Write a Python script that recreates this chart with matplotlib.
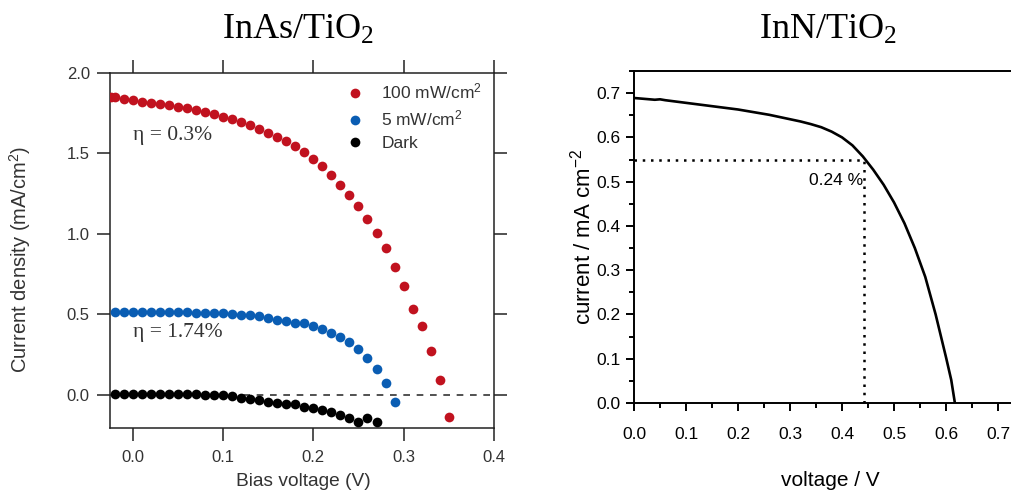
import matplotlib
matplotlib.use("Agg")
import matplotlib.pyplot as plt
from matplotlib.ticker import MultipleLocator

plt.rcParams["font.family"] = ["Liberation Sans", "DejaVu Sans"]
plt.rcParams["mathtext.default"] = "regular"

# InAs/TiO2 panel: J-V points (V in volts, J in mA/cm2)
v_100 = [-0.024, -0.02, -0.01, 0.0, 0.01, 0.02, 0.03, 0.04, 0.05, 0.06, 0.07, 0.08, 0.09,
         0.10, 0.11, 0.12, 0.13, 0.14, 0.15, 0.16, 0.17, 0.18, 0.19, 0.20, 0.21, 0.22,
         0.23, 0.24, 0.25, 0.26, 0.27, 0.28, 0.29, 0.30, 0.31, 0.32, 0.33, 0.34, 0.35]
j_100 = [1.853, 1.848, 1.840, 1.830, 1.822, 1.815, 1.808, 1.800, 1.791, 1.781, 1.768, 1.757,
         1.743, 1.729, 1.713, 1.697, 1.677, 1.655, 1.628, 1.602, 1.576, 1.546, 1.506, 1.466,
         1.425, 1.366, 1.305, 1.245, 1.175, 1.095, 1.005, 0.910, 0.797, 0.677, 0.534, 0.430,
         0.276, 0.090, -0.136]

v_5 = [-0.02, -0.01, 0.0, 0.01, 0.02, 0.03, 0.04, 0.05, 0.06, 0.07, 0.08, 0.09, 0.10,
       0.11, 0.12, 0.13, 0.14, 0.15, 0.16, 0.17, 0.18, 0.19, 0.20, 0.21, 0.22, 0.23,
       0.24, 0.25, 0.26, 0.27, 0.28, 0.29]
j_5 = [0.515, 0.515, 0.515, 0.515, 0.515, 0.514, 0.514, 0.513, 0.513, 0.512, 0.511, 0.510,
       0.507, 0.503, 0.498, 0.494, 0.488, 0.478, 0.468, 0.457, 0.449, 0.444, 0.428, 0.410,
       0.385, 0.358, 0.327, 0.286, 0.230, 0.162, 0.076, -0.044]

v_dark = [-0.02, -0.01, 0.0, 0.01, 0.02, 0.03, 0.04, 0.05, 0.06, 0.07, 0.08, 0.09, 0.10,
          0.11, 0.12, 0.13, 0.14, 0.15, 0.16, 0.17, 0.18, 0.19, 0.20, 0.21, 0.22, 0.23,
          0.24, 0.25, 0.26, 0.27]
j_dark = [0.003, 0.003, 0.003, 0.003, 0.004, 0.006, 0.008, 0.006, 0.004, 0.003, 0.002, 0.001,
          -0.002, -0.008, -0.016, -0.022, -0.033, -0.041, -0.047, -0.057, -0.058, -0.074,
          -0.078, -0.094, -0.103, -0.123, -0.140, -0.170, -0.144, -0.167]

# InN/TiO2 panel: current (mA cm-2) vs voltage (V)
v_inn = [0.0, 0.02, 0.04, 0.05, 0.06, 0.08, 0.10, 0.12, 0.14, 0.16, 0.18, 0.20, 0.22,
         0.24, 0.26, 0.28, 0.30, 0.32, 0.34, 0.36, 0.38, 0.40, 0.42, 0.44, 0.46, 0.48,
         0.50, 0.52, 0.54, 0.56, 0.58, 0.60, 0.61, 0.617]
j_inn = [0.689, 0.687, 0.685, 0.686, 0.684, 0.681, 0.678, 0.675, 0.672, 0.669, 0.666, 0.663,
         0.659, 0.655, 0.651, 0.646, 0.641, 0.636, 0.630, 0.623, 0.613, 0.600, 0.582, 0.557,
         0.527, 0.493, 0.453, 0.406, 0.350, 0.285, 0.200, 0.103, 0.052, 0.0]
v_mpp = 0.443
j_mpp = 0.55

fig = plt.figure(figsize=(10.12, 4.95), dpi=100)

# ---------- left panel ----------
ax = fig.add_axes([0.1087, 0.1354, 0.3794, 0.7172])
ax.axhline(0, ls=(0, (4, 4)), lw=1.2, color="#333333", zorder=1)
ax.plot(v_100, j_100, "o", ms=7, color="#c1121f", mec="none", label="100 mW/cm$^2$", zorder=3)
ax.plot(v_5, j_5, "o", ms=7, color="#0a5db3", mec="none", label="5 mW/cm$^2$", zorder=3)
ax.plot(v_dark, j_dark, "o", ms=7, color="black", mec="none", label="Dark", zorder=3)
ax.set_xlim(-0.025, 0.4)
ax.set_ylim(-0.205, 2.0)
ax.set_xticks([0.0, 0.1, 0.2, 0.3, 0.4])
ax.set_yticks([0.0, 0.5, 1.0, 1.5, 2.0])
ax.tick_params(direction="out", length=9.5, width=1.1, top=True, right=True,
               labelsize=12, labelcolor="#333333", color="#222222")
ax.tick_params(axis="x", pad=6.5)
ax.tick_params(axis="y", pad=5)
for s in ax.spines.values():
    s.set_linewidth(1.1)
    s.set_color("#222222")
ax.set_xlabel("Bias voltage (V)", fontsize=13.8, color="#333333", va="center")
ax.set_ylabel("Current density (mA/cm$^2$)", fontsize=14.5, color="#333333", va="center")
ax.xaxis.set_label_coords(0.503, -0.152)
ax.yaxis.set_label_coords(-0.234, 0.476)
ax.text(0.0, 1.61, "η = 0.3%", family="Liberation Serif", fontsize=15.5, color="#333333",
        ha="left", va="center")
ax.text(0.0, 0.39, "η = 1.74%", family="Liberation Serif", fontsize=15.5, color="#333333",
        ha="left", va="center")
ax.legend(loc="upper left", bbox_to_anchor=(0.616, 0.975), frameon=False, fontsize=12.5,
          handlelength=1.0, handletextpad=1.0, borderpad=0, borderaxespad=0,
          labelspacing=0.4, labelcolor="#333333")

# ---------- right panel ----------
ax2 = fig.add_axes([0.6265, 0.1859, 0.3854, 0.6707])
ax2.plot(v_inn, j_inn, color="black", lw=1.9)
ax2.plot([0, v_mpp], [j_mpp, j_mpp], color="black", lw=1.8, ls=(0, (1, 2.3)))
ax2.plot([v_mpp, v_mpp], [0, j_mpp], color="black", lw=1.8, ls=(0, (1, 2.3)))
ax2.text(0.44, 0.502, "0.24 %", fontsize=12.5, ha="right", va="center")
ax2.set_xlim(0, 0.75)
ax2.set_ylim(0, 0.75)
ax2.set_xticks([0.0, 0.1, 0.2, 0.3, 0.4, 0.5, 0.6, 0.7])
ax2.set_yticks([0.0, 0.1, 0.2, 0.3, 0.4, 0.5, 0.6, 0.7])
ax2.xaxis.set_minor_locator(MultipleLocator(0.05))
ax2.yaxis.set_minor_locator(MultipleLocator(0.05))
ax2.tick_params(which="major", direction="out", length=6, width=1.4, labelsize=12.5)
ax2.tick_params(which="minor", direction="out", length=3.3, width=1.4)
ax2.tick_params(axis="x", which="major", pad=11)
ax2.tick_params(axis="y", which="major", pad=4)
for s in ax2.spines.values():
    s.set_linewidth(1.4)
ax2.spines["right"].set_visible(False)
ax2.set_xlabel("voltage / V", fontsize=15, va="center")
ax2.set_ylabel("current / mA cm$^{-2}$", fontsize=16, va="center")
ax2.xaxis.set_label_coords(0.503, -0.232)
ax2.yaxis.set_label_coords(-0.131, 0.5)

# titles
fig.text(298 / 1012, 1 - 30 / 495, "InAs/TiO$_2$", family="Liberation Serif", fontsize=26,
         ha="center", va="center")
fig.text(828 / 1012, 1 - 30 / 495, "InN/TiO$_2$", family="Liberation Serif", fontsize=26,
         ha="center", va="center")

fig.savefig("out.png", dpi=100)
